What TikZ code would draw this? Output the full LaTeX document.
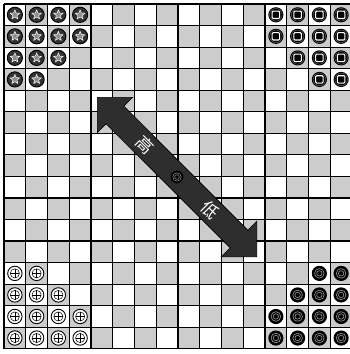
\documentclass[tikz,border=0pt]{standalone}
\usepackage{fontspec}
\newfontfamily\cjk{Noto Sans CJK SC}
\usepackage{tikz}

\tikzset{
  cellgray/.style={fill=black!20},
  gridline/.style={line width=1.2pt},
  pics/starpiece/.style={code={
    \draw[fill=black!80,line width=0.9pt] (0,0) circle[radius=7.6pt];
    \draw[white,fill=black!45,line width=0.5pt,line join=round] (90:5pt)
      \foreach \a in {0,...,4}{ -- ({126+72*\a}:2.2pt) -- ({162+72*\a}:5pt) } -- cycle;
  }},
  pics/squarepiece/.style={code={
    \fill[black] (0,0) circle[radius=7.6pt];
    \draw[black!55,line width=0.4pt] (0,0) circle[radius=6.3pt];
    \draw[white,fill=black,line width=1.1pt,rounded corners=1pt] (-3.7pt,-3.7pt) rectangle (3.7pt,3.7pt);
  }},
  pics/pluspiece/.style={code={
    \draw[fill=white,line width=0.9pt] (0,0) circle[radius=7.2pt];
    \draw[line width=0.5pt] (0,0) circle[radius=4.6pt];
    \draw[line width=0.6pt] (-4.6pt,0) -- (4.6pt,0) (0,-4.6pt) -- (0,4.6pt);
  }},
  pics/ringpiece/.style={code={
    \fill[black] (0,0) circle[radius=7.6pt];
    \draw[black!40,line width=0.6pt] (0,0) circle[radius=4.8pt];
    \draw[black!40,line width=0.6pt] (0,0) circle[radius=2.7pt];
  }},
  arrowbody/.style={fill=black!82,draw=black,line width=0.6pt,line join=miter},
  arrowtext/.style={text=white,font=\cjk\fontsize{17pt}{17pt}\selectfont,rotate=-45,inner sep=0pt}
}

\begin{document}
\begin{tikzpicture}[x=1pt,y=-1pt]
\clip (0,0) rectangle (350,354);
\fill[white] (0,0) rectangle (350,354);

% board
\begin{scope}[shift={(4,4)},x=21.75pt,y=-21.55pt]
\foreach \r in {0,...,15}
  \foreach \c in {0,...,15}
  {
    \pgfmathtruncatemacro\s{\r+\c}
    \ifodd\s \fill[cellgray] (\c,\r) rectangle ++(1,1); \fi
  }
\foreach \i in {0,...,16}
{
  \draw[gridline] (\i,0) -- (\i,16);
  \draw[gridline] (0,\i) -- (16,\i);
}
% corner camps
\foreach \r/\n in {0/3,1/3,2/2,3/1}
  \foreach \c in {0,...,\n}
    \pic at (\c+0.5,\r+0.5) {starpiece};
\foreach \r/\n in {0/12,1/12,2/13,3/14}
  \foreach \c in {\n,...,15}
    \pic at (\c+0.5,\r+0.5) {squarepiece};
\foreach \r/\n in {12/1,13/2,14/3,15/3}
  \foreach \c in {0,...,\n}
    \pic at (\c+0.5,\r+0.5) {pluspiece};
\foreach \r/\n in {12/14,13/13,14/12,15/12}
  \foreach \c in {\n,...,15}
    \pic at (\c+0.5,\r+0.5) {ringpiece};
\end{scope}

% double arrow
\draw[arrowbody] (97.3,97.3) -- (132.7,97.3) -- (123.8,106.1) -- (247.8,230.2)
  -- (256.7,221.3) -- (256.7,256.7) -- (221.3,256.7) -- (230.2,247.8)
  -- (106.1,123.8) -- (97.3,132.7) -- cycle;
\node[arrowtext] (high) at (145,145) {高};
\node[arrowtext] (low) at (210,210) {低};
\coordinate (mid) at (177,177);
\fill[black] (mid) circle[radius=6.4pt];
\draw[black!40,line width=0.5pt] (mid) circle[radius=4.2pt];
\draw[black!40,line width=0.5pt] (mid) circle[radius=2.3pt];
\end{tikzpicture}
\end{document}
